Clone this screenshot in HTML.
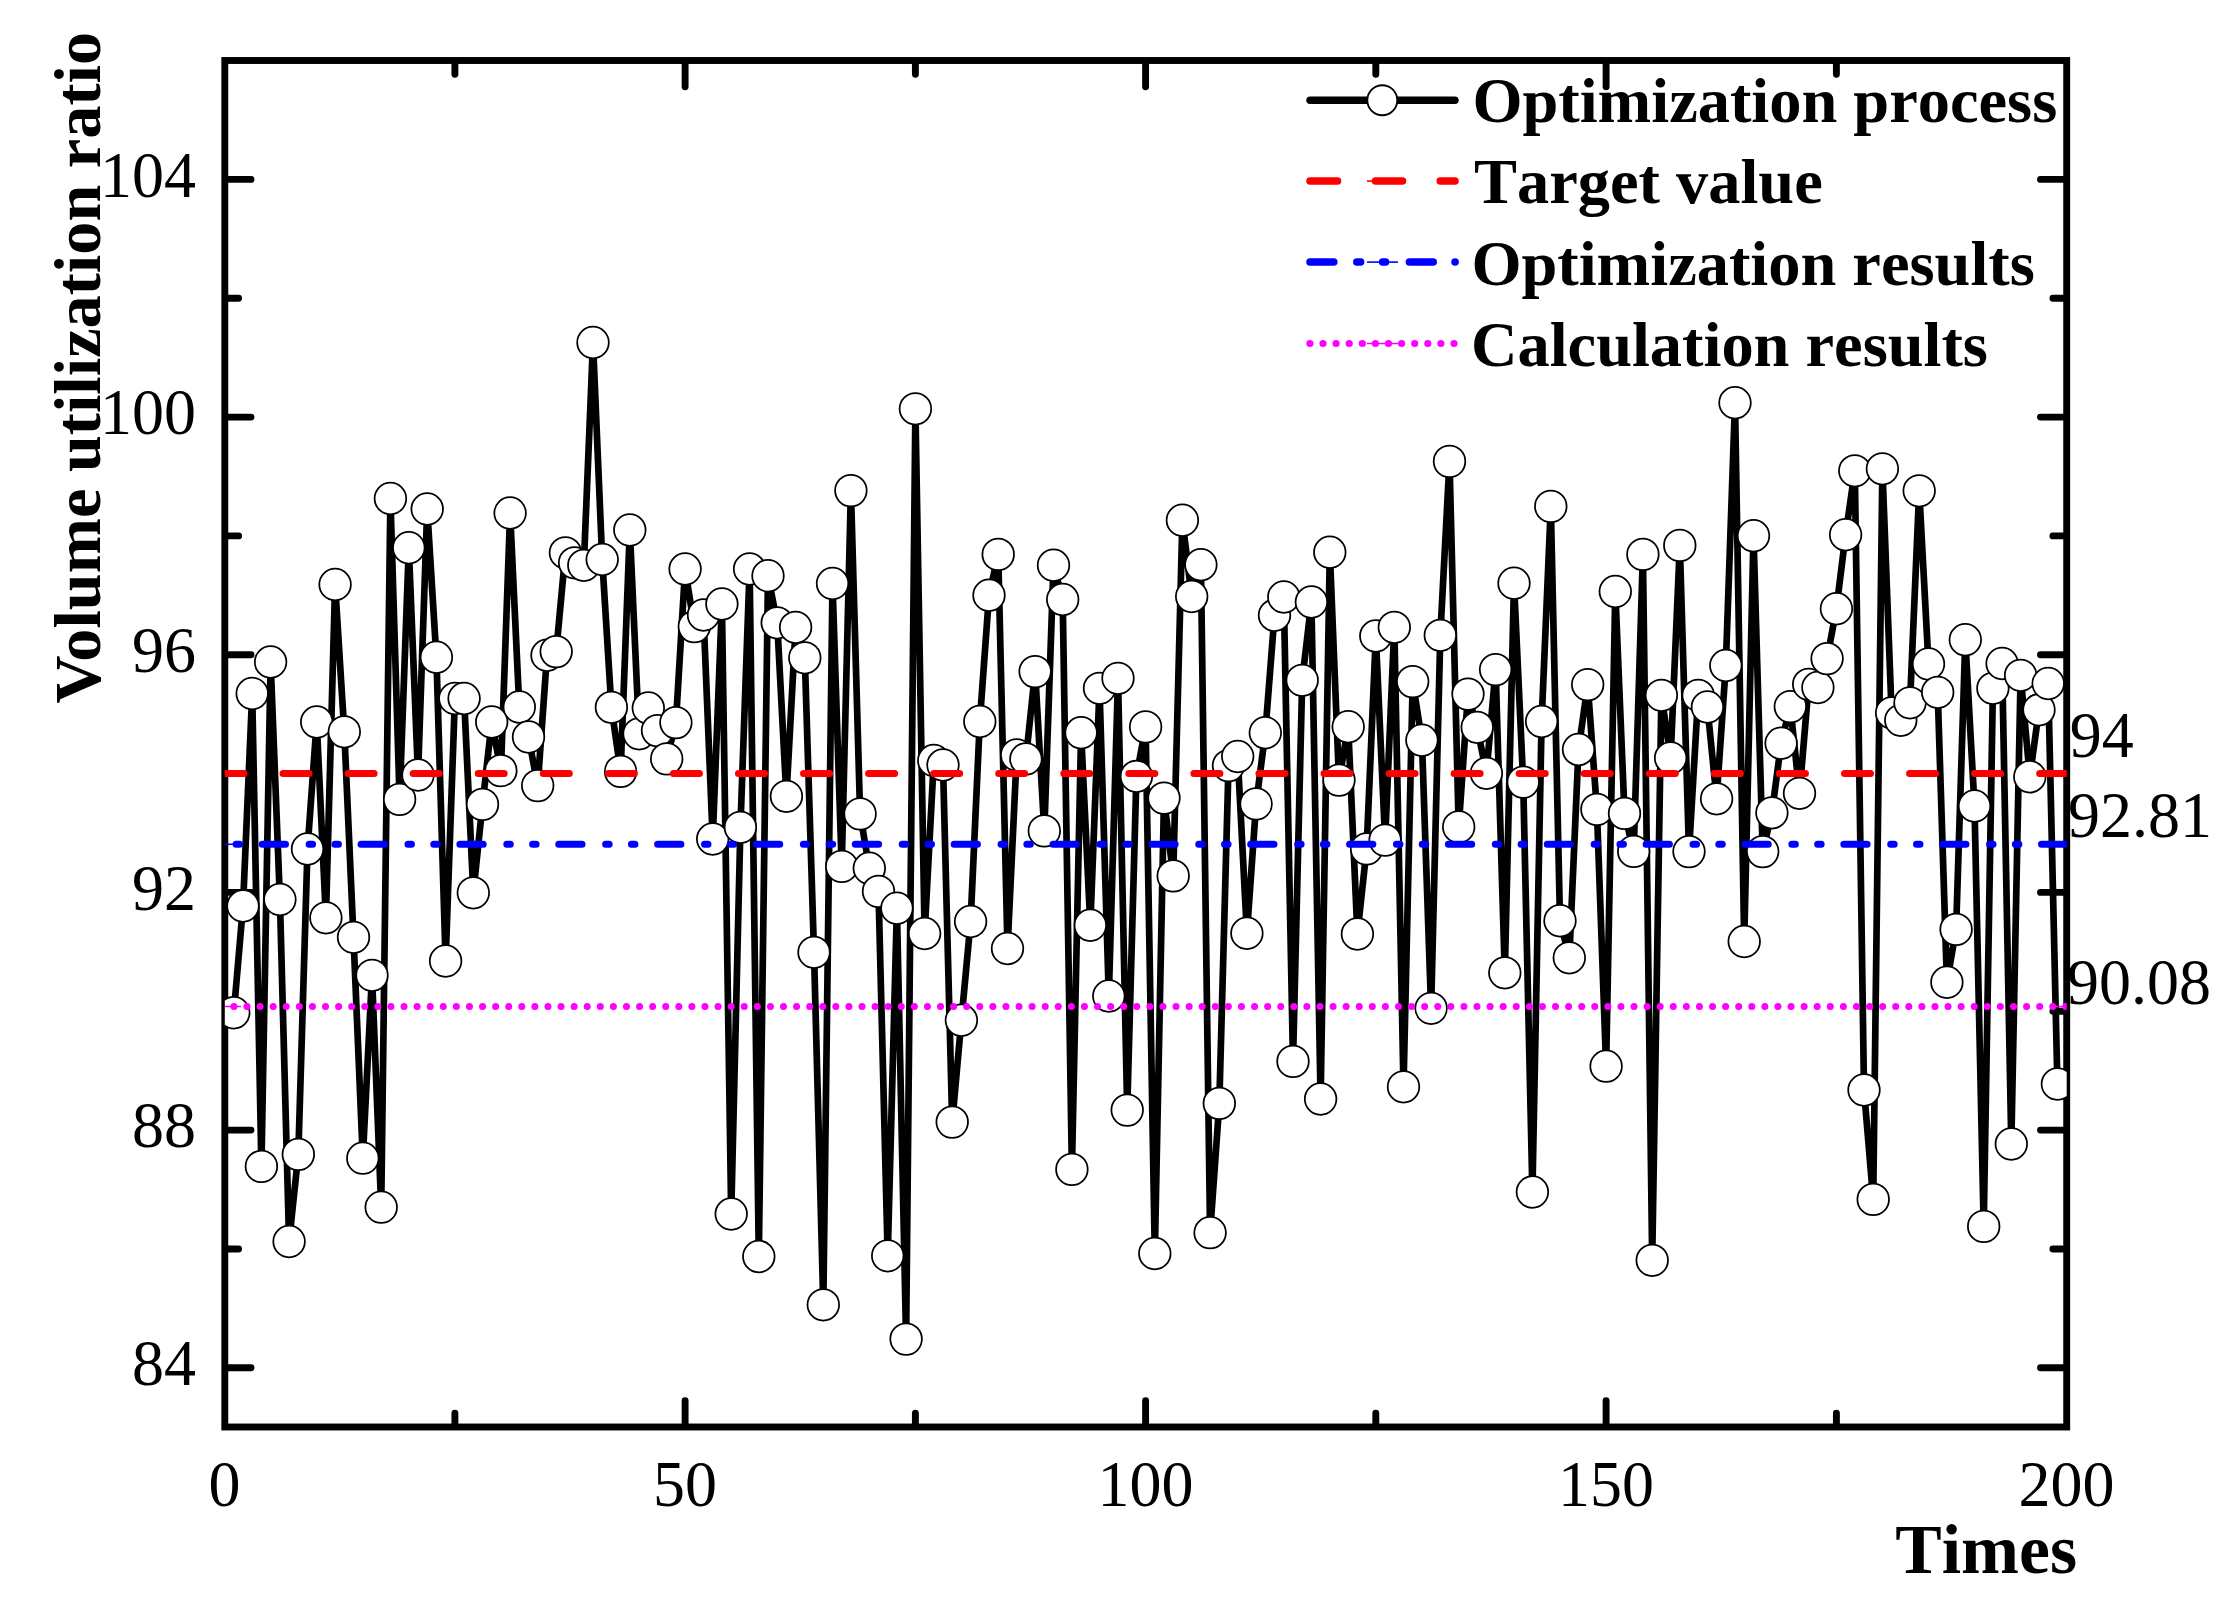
<!DOCTYPE html>
<html><head><meta charset="utf-8"><title>Volume utilization ratio</title>
<style>html,body{margin:0;padding:0;background:#fff}svg{display:block}text{font-family:"Liberation Serif","Times New Roman",serif;fill:#000}text{font-kerning:none}.b{font-weight:bold}</style></head><body>
<svg width="2238" height="1612" viewBox="0 0 2238 1612">
<rect width="2238" height="1612" fill="#fff"/>
<defs><clipPath id="cp"><rect x="224.8" y="60.5" width="1841.9" height="1366.5"/></clipPath></defs>
<g stroke="#000" stroke-width="6.9" fill="none" stroke-linecap="round">
<rect x="224.8" y="60.5" width="1841.9" height="1366.5" stroke-linejoin="miter"/>
<path d="M454.9 1426.0v-12.8M454.9 61.5v12.8"/>
<path d="M685.1 1426.0v-25.2M685.1 61.5v25.2"/>
<path d="M915.4 1426.0v-12.8M915.4 61.5v12.8"/>
<path d="M1145.6 1426.0v-25.2M1145.6 61.5v25.2"/>
<path d="M1375.8 1426.0v-12.8M1375.8 61.5v12.8"/>
<path d="M1606.1 1426.0v-25.2M1606.1 61.5v25.2"/>
<path d="M1836.4 1426.0v-12.8M1836.4 61.5v12.8"/>
<path d="M225.8 1367.8h25.2M2065.7 1367.8h-25.2"/>
<path d="M225.8 1249.0h12.8M2065.7 1249.0h-12.8"/>
<path d="M225.8 1130.1h25.2M2065.7 1130.1h-25.2"/>
<path d="M225.8 1011.3h12.8M2065.7 1011.3h-12.8"/>
<path d="M225.8 892.4h25.2M2065.7 892.4h-25.2"/>
<path d="M225.8 773.6h12.8M2065.7 773.6h-12.8"/>
<path d="M225.8 654.8h25.2M2065.7 654.8h-25.2"/>
<path d="M225.8 535.9h12.8M2065.7 535.9h-12.8"/>
<path d="M225.8 417.1h25.2M2065.7 417.1h-25.2"/>
<path d="M225.8 298.2h12.8M2065.7 298.2h-12.8"/>
<path d="M225.8 179.4h25.2M2065.7 179.4h-25.2"/>
</g>
<g clip-path="url(#cp)">
<polyline points="233.8,1012.7 243.0,906.0 252.2,693.5 261.4,1166.4 270.6,662.0 279.9,899.5 289.1,1241.5 298.3,1154.4 307.5,849.0 316.7,722.0 325.9,917.8 335.1,584.5 344.3,731.8 353.5,937.3 362.8,1158.2 372.0,975.3 381.2,1207.2 390.4,498.5 399.6,799.4 408.8,547.7 418.0,775.0 427.2,509.0 436.4,657.2 445.6,961.0 454.9,698.5 464.1,698.5 473.3,892.8 482.5,804.4 491.7,722.0 500.9,770.6 510.1,513.0 519.3,707.0 528.5,737.0 537.7,785.6 547.0,655.2 556.2,651.6 565.4,552.8 574.6,562.8 583.8,565.3 593.0,342.5 602.2,559.5 611.4,707.3 620.6,771.4 629.8,530.0 639.1,733.8 648.3,708.0 657.5,730.6 666.7,758.9 675.9,722.6 685.1,569.0 694.3,626.6 703.5,615.0 712.7,839.0 721.9,604.0 731.2,1214.0 740.4,827.3 749.6,569.0 758.8,1256.5 768.0,575.7 777.2,622.8 786.4,796.3 795.6,627.3 804.8,657.8 814.0,952.3 823.3,1304.8 832.5,583.5 841.7,866.4 850.9,490.6 860.1,813.9 869.3,868.2 878.5,891.4 887.7,1255.8 896.9,908.2 906.1,1339.1 915.4,408.8 924.6,933.5 933.8,760.5 943.0,765.0 952.2,1122.1 961.4,1020.2 970.6,921.5 979.8,721.5 989.0,595.2 998.2,554.4 1007.5,948.5 1016.7,755.0 1025.9,759.0 1035.1,671.6 1044.3,830.9 1053.5,565.2 1062.7,599.5 1071.9,1169.4 1081.1,732.7 1090.3,925.2 1099.5,688.3 1108.8,996.0 1118.0,678.3 1127.2,1110.1 1136.4,776.3 1145.6,726.9 1154.8,1253.5 1164.0,798.1 1173.2,875.9 1182.4,520.2 1191.7,596.5 1200.9,564.7 1210.1,1232.7 1219.3,1103.4 1228.5,765.6 1237.7,756.5 1246.9,933.2 1256.1,803.9 1265.3,732.7 1274.5,615.3 1283.8,597.0 1293.0,1061.4 1302.2,680.3 1311.4,602.0 1320.6,1099.0 1329.8,552.2 1339.0,780.1 1348.2,726.7 1357.4,934.0 1366.6,848.9 1375.8,636.0 1385.1,840.1 1394.3,627.3 1403.5,1086.8 1412.7,681.6 1421.9,740.2 1431.1,1008.3 1440.3,635.3 1449.5,461.4 1458.7,826.9 1468.0,694.1 1477.2,727.3 1486.4,773.3 1495.6,669.6 1504.8,972.8 1514.0,583.2 1523.2,782.1 1532.4,1192.0 1541.6,721.5 1550.8,506.4 1560.0,920.7 1569.3,957.8 1578.5,749.5 1587.7,684.6 1596.9,809.4 1606.1,1066.2 1615.3,591.5 1624.5,813.4 1633.7,851.4 1642.9,554.4 1652.2,1260.3 1661.4,695.3 1670.6,758.0 1679.8,545.4 1689.0,851.6 1698.2,695.3 1707.4,707.0 1716.6,798.8 1725.8,665.5 1735.0,402.7 1744.2,941.5 1753.5,535.7 1762.7,851.6 1771.9,812.8 1781.1,743.2 1790.3,706.6 1799.5,793.3 1808.7,684.3 1817.9,687.5 1827.1,658.6 1836.4,608.7 1845.6,534.7 1854.8,470.8 1864.0,1090.0 1873.2,1199.4 1882.4,468.8 1891.6,712.8 1900.8,720.3 1910.0,702.8 1919.2,490.8 1928.5,664.0 1937.7,692.3 1946.9,982.2 1956.1,929.4 1965.3,639.7 1974.5,806.0 1983.7,1226.4 1992.9,688.3 2002.1,663.5 2011.3,1144.0 2020.6,675.3 2029.8,776.7 2039.0,709.8 2048.2,683.5 2057.4,1084.0" fill="none" stroke="#000" stroke-width="6.7" stroke-linejoin="round"/>
<g fill="#fff" stroke="#000" stroke-width="1.75">
<circle cx="233.8" cy="1012.7" r="15.8"/>
<circle cx="243.0" cy="906.0" r="15.8"/>
<circle cx="252.2" cy="693.5" r="15.8"/>
<circle cx="261.4" cy="1166.4" r="15.8"/>
<circle cx="270.6" cy="662.0" r="15.8"/>
<circle cx="279.9" cy="899.5" r="15.8"/>
<circle cx="289.1" cy="1241.5" r="15.8"/>
<circle cx="298.3" cy="1154.4" r="15.8"/>
<circle cx="307.5" cy="849.0" r="15.8"/>
<circle cx="316.7" cy="722.0" r="15.8"/>
<circle cx="325.9" cy="917.8" r="15.8"/>
<circle cx="335.1" cy="584.5" r="15.8"/>
<circle cx="344.3" cy="731.8" r="15.8"/>
<circle cx="353.5" cy="937.3" r="15.8"/>
<circle cx="362.8" cy="1158.2" r="15.8"/>
<circle cx="372.0" cy="975.3" r="15.8"/>
<circle cx="381.2" cy="1207.2" r="15.8"/>
<circle cx="390.4" cy="498.5" r="15.8"/>
<circle cx="399.6" cy="799.4" r="15.8"/>
<circle cx="408.8" cy="547.7" r="15.8"/>
<circle cx="418.0" cy="775.0" r="15.8"/>
<circle cx="427.2" cy="509.0" r="15.8"/>
<circle cx="436.4" cy="657.2" r="15.8"/>
<circle cx="445.6" cy="961.0" r="15.8"/>
<circle cx="454.9" cy="698.5" r="15.8"/>
<circle cx="464.1" cy="698.5" r="15.8"/>
<circle cx="473.3" cy="892.8" r="15.8"/>
<circle cx="482.5" cy="804.4" r="15.8"/>
<circle cx="491.7" cy="722.0" r="15.8"/>
<circle cx="500.9" cy="770.6" r="15.8"/>
<circle cx="510.1" cy="513.0" r="15.8"/>
<circle cx="519.3" cy="707.0" r="15.8"/>
<circle cx="528.5" cy="737.0" r="15.8"/>
<circle cx="537.7" cy="785.6" r="15.8"/>
<circle cx="547.0" cy="655.2" r="15.8"/>
<circle cx="556.2" cy="651.6" r="15.8"/>
<circle cx="565.4" cy="552.8" r="15.8"/>
<circle cx="574.6" cy="562.8" r="15.8"/>
<circle cx="583.8" cy="565.3" r="15.8"/>
<circle cx="593.0" cy="342.5" r="15.8"/>
<circle cx="602.2" cy="559.5" r="15.8"/>
<circle cx="611.4" cy="707.3" r="15.8"/>
<circle cx="620.6" cy="771.4" r="15.8"/>
<circle cx="629.8" cy="530.0" r="15.8"/>
<circle cx="639.1" cy="733.8" r="15.8"/>
<circle cx="648.3" cy="708.0" r="15.8"/>
<circle cx="657.5" cy="730.6" r="15.8"/>
<circle cx="666.7" cy="758.9" r="15.8"/>
<circle cx="675.9" cy="722.6" r="15.8"/>
<circle cx="685.1" cy="569.0" r="15.8"/>
<circle cx="694.3" cy="626.6" r="15.8"/>
<circle cx="703.5" cy="615.0" r="15.8"/>
<circle cx="712.7" cy="839.0" r="15.8"/>
<circle cx="721.9" cy="604.0" r="15.8"/>
<circle cx="731.2" cy="1214.0" r="15.8"/>
<circle cx="740.4" cy="827.3" r="15.8"/>
<circle cx="749.6" cy="569.0" r="15.8"/>
<circle cx="758.8" cy="1256.5" r="15.8"/>
<circle cx="768.0" cy="575.7" r="15.8"/>
<circle cx="777.2" cy="622.8" r="15.8"/>
<circle cx="786.4" cy="796.3" r="15.8"/>
<circle cx="795.6" cy="627.3" r="15.8"/>
<circle cx="804.8" cy="657.8" r="15.8"/>
<circle cx="814.0" cy="952.3" r="15.8"/>
<circle cx="823.3" cy="1304.8" r="15.8"/>
<circle cx="832.5" cy="583.5" r="15.8"/>
<circle cx="841.7" cy="866.4" r="15.8"/>
<circle cx="850.9" cy="490.6" r="15.8"/>
<circle cx="860.1" cy="813.9" r="15.8"/>
<circle cx="869.3" cy="868.2" r="15.8"/>
<circle cx="878.5" cy="891.4" r="15.8"/>
<circle cx="887.7" cy="1255.8" r="15.8"/>
<circle cx="896.9" cy="908.2" r="15.8"/>
<circle cx="906.1" cy="1339.1" r="15.8"/>
<circle cx="915.4" cy="408.8" r="15.8"/>
<circle cx="924.6" cy="933.5" r="15.8"/>
<circle cx="933.8" cy="760.5" r="15.8"/>
<circle cx="943.0" cy="765.0" r="15.8"/>
<circle cx="952.2" cy="1122.1" r="15.8"/>
<circle cx="961.4" cy="1020.2" r="15.8"/>
<circle cx="970.6" cy="921.5" r="15.8"/>
<circle cx="979.8" cy="721.5" r="15.8"/>
<circle cx="989.0" cy="595.2" r="15.8"/>
<circle cx="998.2" cy="554.4" r="15.8"/>
<circle cx="1007.5" cy="948.5" r="15.8"/>
<circle cx="1016.7" cy="755.0" r="15.8"/>
<circle cx="1025.9" cy="759.0" r="15.8"/>
<circle cx="1035.1" cy="671.6" r="15.8"/>
<circle cx="1044.3" cy="830.9" r="15.8"/>
<circle cx="1053.5" cy="565.2" r="15.8"/>
<circle cx="1062.7" cy="599.5" r="15.8"/>
<circle cx="1071.9" cy="1169.4" r="15.8"/>
<circle cx="1081.1" cy="732.7" r="15.8"/>
<circle cx="1090.3" cy="925.2" r="15.8"/>
<circle cx="1099.5" cy="688.3" r="15.8"/>
<circle cx="1108.8" cy="996.0" r="15.8"/>
<circle cx="1118.0" cy="678.3" r="15.8"/>
<circle cx="1127.2" cy="1110.1" r="15.8"/>
<circle cx="1136.4" cy="776.3" r="15.8"/>
<circle cx="1145.6" cy="726.9" r="15.8"/>
<circle cx="1154.8" cy="1253.5" r="15.8"/>
<circle cx="1164.0" cy="798.1" r="15.8"/>
<circle cx="1173.2" cy="875.9" r="15.8"/>
<circle cx="1182.4" cy="520.2" r="15.8"/>
<circle cx="1191.7" cy="596.5" r="15.8"/>
<circle cx="1200.9" cy="564.7" r="15.8"/>
<circle cx="1210.1" cy="1232.7" r="15.8"/>
<circle cx="1219.3" cy="1103.4" r="15.8"/>
<circle cx="1228.5" cy="765.6" r="15.8"/>
<circle cx="1237.7" cy="756.5" r="15.8"/>
<circle cx="1246.9" cy="933.2" r="15.8"/>
<circle cx="1256.1" cy="803.9" r="15.8"/>
<circle cx="1265.3" cy="732.7" r="15.8"/>
<circle cx="1274.5" cy="615.3" r="15.8"/>
<circle cx="1283.8" cy="597.0" r="15.8"/>
<circle cx="1293.0" cy="1061.4" r="15.8"/>
<circle cx="1302.2" cy="680.3" r="15.8"/>
<circle cx="1311.4" cy="602.0" r="15.8"/>
<circle cx="1320.6" cy="1099.0" r="15.8"/>
<circle cx="1329.8" cy="552.2" r="15.8"/>
<circle cx="1339.0" cy="780.1" r="15.8"/>
<circle cx="1348.2" cy="726.7" r="15.8"/>
<circle cx="1357.4" cy="934.0" r="15.8"/>
<circle cx="1366.6" cy="848.9" r="15.8"/>
<circle cx="1375.8" cy="636.0" r="15.8"/>
<circle cx="1385.1" cy="840.1" r="15.8"/>
<circle cx="1394.3" cy="627.3" r="15.8"/>
<circle cx="1403.5" cy="1086.8" r="15.8"/>
<circle cx="1412.7" cy="681.6" r="15.8"/>
<circle cx="1421.9" cy="740.2" r="15.8"/>
<circle cx="1431.1" cy="1008.3" r="15.8"/>
<circle cx="1440.3" cy="635.3" r="15.8"/>
<circle cx="1449.5" cy="461.4" r="15.8"/>
<circle cx="1458.7" cy="826.9" r="15.8"/>
<circle cx="1468.0" cy="694.1" r="15.8"/>
<circle cx="1477.2" cy="727.3" r="15.8"/>
<circle cx="1486.4" cy="773.3" r="15.8"/>
<circle cx="1495.6" cy="669.6" r="15.8"/>
<circle cx="1504.8" cy="972.8" r="15.8"/>
<circle cx="1514.0" cy="583.2" r="15.8"/>
<circle cx="1523.2" cy="782.1" r="15.8"/>
<circle cx="1532.4" cy="1192.0" r="15.8"/>
<circle cx="1541.6" cy="721.5" r="15.8"/>
<circle cx="1550.8" cy="506.4" r="15.8"/>
<circle cx="1560.0" cy="920.7" r="15.8"/>
<circle cx="1569.3" cy="957.8" r="15.8"/>
<circle cx="1578.5" cy="749.5" r="15.8"/>
<circle cx="1587.7" cy="684.6" r="15.8"/>
<circle cx="1596.9" cy="809.4" r="15.8"/>
<circle cx="1606.1" cy="1066.2" r="15.8"/>
<circle cx="1615.3" cy="591.5" r="15.8"/>
<circle cx="1624.5" cy="813.4" r="15.8"/>
<circle cx="1633.7" cy="851.4" r="15.8"/>
<circle cx="1642.9" cy="554.4" r="15.8"/>
<circle cx="1652.2" cy="1260.3" r="15.8"/>
<circle cx="1661.4" cy="695.3" r="15.8"/>
<circle cx="1670.6" cy="758.0" r="15.8"/>
<circle cx="1679.8" cy="545.4" r="15.8"/>
<circle cx="1689.0" cy="851.6" r="15.8"/>
<circle cx="1698.2" cy="695.3" r="15.8"/>
<circle cx="1707.4" cy="707.0" r="15.8"/>
<circle cx="1716.6" cy="798.8" r="15.8"/>
<circle cx="1725.8" cy="665.5" r="15.8"/>
<circle cx="1735.0" cy="402.7" r="15.8"/>
<circle cx="1744.2" cy="941.5" r="15.8"/>
<circle cx="1753.5" cy="535.7" r="15.8"/>
<circle cx="1762.7" cy="851.6" r="15.8"/>
<circle cx="1771.9" cy="812.8" r="15.8"/>
<circle cx="1781.1" cy="743.2" r="15.8"/>
<circle cx="1790.3" cy="706.6" r="15.8"/>
<circle cx="1799.5" cy="793.3" r="15.8"/>
<circle cx="1808.7" cy="684.3" r="15.8"/>
<circle cx="1817.9" cy="687.5" r="15.8"/>
<circle cx="1827.1" cy="658.6" r="15.8"/>
<circle cx="1836.4" cy="608.7" r="15.8"/>
<circle cx="1845.6" cy="534.7" r="15.8"/>
<circle cx="1854.8" cy="470.8" r="15.8"/>
<circle cx="1864.0" cy="1090.0" r="15.8"/>
<circle cx="1873.2" cy="1199.4" r="15.8"/>
<circle cx="1882.4" cy="468.8" r="15.8"/>
<circle cx="1891.6" cy="712.8" r="15.8"/>
<circle cx="1900.8" cy="720.3" r="15.8"/>
<circle cx="1910.0" cy="702.8" r="15.8"/>
<circle cx="1919.2" cy="490.8" r="15.8"/>
<circle cx="1928.5" cy="664.0" r="15.8"/>
<circle cx="1937.7" cy="692.3" r="15.8"/>
<circle cx="1946.9" cy="982.2" r="15.8"/>
<circle cx="1956.1" cy="929.4" r="15.8"/>
<circle cx="1965.3" cy="639.7" r="15.8"/>
<circle cx="1974.5" cy="806.0" r="15.8"/>
<circle cx="1983.7" cy="1226.4" r="15.8"/>
<circle cx="1992.9" cy="688.3" r="15.8"/>
<circle cx="2002.1" cy="663.5" r="15.8"/>
<circle cx="2011.3" cy="1144.0" r="15.8"/>
<circle cx="2020.6" cy="675.3" r="15.8"/>
<circle cx="2029.8" cy="776.7" r="15.8"/>
<circle cx="2039.0" cy="709.8" r="15.8"/>
<circle cx="2048.2" cy="683.5" r="15.8"/>
<circle cx="2057.4" cy="1084.0" r="15.8"/>
</g>
<path d="M218 773.6H2080" stroke="#f00" stroke-width="7" stroke-linecap="round" stroke-dasharray="26 39.06" fill="none"/>
<path d="M163.35 844.3H2080" stroke="#00f" stroke-width="7" stroke-linecap="round" stroke-dasharray="23.3 23.6 3.5 22.3 3.5 22.65" fill="none"/>
<path d="M233.915 1006.5H2080" stroke="#f0f" stroke-width="7" stroke-linecap="round" stroke-dasharray="0.01 13.075" fill="none"/>
<path d="M224.8 844.3H234" stroke="#00f" stroke-width="1.5" fill="none"/>
<path d="M224.8 1006.5H241M2056 1006.5H2066.7" stroke="#f0f" stroke-width="1.5" fill="none"/>
</g>
<g font-size="64">
<text transform="translate(224.6 1506.0) scale(1 1.035)" text-anchor="middle">0</text>
<text transform="translate(685.1 1506.0) scale(1 1.035)" text-anchor="middle">50</text>
<text transform="translate(1145.6 1506.0) scale(1 1.035)" text-anchor="middle">100</text>
<text transform="translate(1606.1 1506.0) scale(1 1.035)" text-anchor="middle">150</text>
<text transform="translate(2066.6 1506.0) scale(1 1.035)" text-anchor="middle">200</text>
<text transform="translate(196.0 1385.0) scale(1 1.035)" text-anchor="end">84</text>
<text transform="translate(196.0 1147.3) scale(1 1.035)" text-anchor="end">88</text>
<text transform="translate(196.0 909.6) scale(1 1.035)" text-anchor="end">92</text>
<text transform="translate(196.0 672.0) scale(1 1.035)" text-anchor="end">96</text>
<text transform="translate(196.0 434.3) scale(1 1.035)" text-anchor="end">100</text>
<text transform="translate(196.0 196.6) scale(1 1.035)" text-anchor="end">104</text>
<text transform="translate(2069.7 757.0) scale(1 1.035)" text-anchor="start">94</text>
<text transform="translate(2068.0 837.4) scale(1 1.035)" text-anchor="start">92.81</text>
<text transform="translate(2067.0 1003.7) scale(1 1.035)" text-anchor="start">90.08</text>
</g>
<text class="b" font-size="69.6" x="1895.3" y="1573.3">Times</text>
<text class="b" font-size="66.3" style="font-kerning:normal" transform="translate(100 703.5) rotate(-90)">Volume utilization ratio</text>
<g class="b" font-size="64.4">
<text x="1472.4" y="121.7">Optimization process</text>
<text x="1474" y="203.2">Target value</text>
<text x="1471.4" y="284.8">Optimization results</text>
<text x="1471" y="365.8">Calculation results</text>
</g>
<path d="M1310.1 100.3H1454.9" stroke="#000" stroke-width="7.6" stroke-linecap="round"/>
<circle cx="1382.3" cy="100.3" r="15" fill="#fff" stroke="#000" stroke-width="1.9"/>
<g fill="none" stroke-linecap="round" stroke-width="7.5">
<path d="M1310 181.1h27.5M1375.5 181.1h27M1440.2 181.1H1455" stroke="#f00"/>
<path d="M1310 262.1h23.8M1356.8 262.1h3.8M1382.6 262.1h3M1409.4 262.1h23.8M1455 262.1h.1" stroke="#00f"/>
<path d="M1309.9 343.5H1455" stroke="#f0f" stroke-width="7.2" stroke-dasharray="0.01 13.09"/>
</g>
<g fill="none" stroke-width="1.6">
<path d="M1367 181.1h12" stroke="#f00"/><path d="M1367 262.1h31" stroke="#00f"/><path d="M1367 343.5h35" stroke="#f0f"/>
</g>
</svg></body></html>
